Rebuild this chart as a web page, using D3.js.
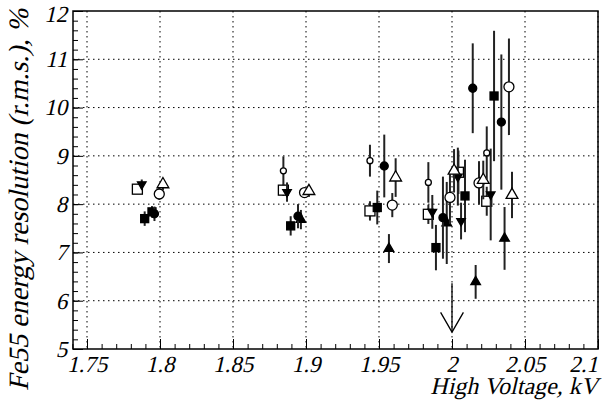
<!DOCTYPE html>
<html>
<head>
<meta charset="utf-8">
<script src="https://cdn.jsdelivr.net/npm/d3@7"></script>
<style>
  body { margin: 0; background: #fff; }
</style>
</head>
<body>
<div id="chart"></div>
<script>
// tick labels
var xTicks = [1.75, 1.8, 1.85, 1.9, 1.95, 2.0, 2.05, 2.1];
var yTicks = [5, 6, 7, 8, 9, 10, 11, 12];

// each point: [high voltage kV, resolution %, error]
var openSquare   = [[1.7845, 8.31, 0.08], [1.8845, 8.29, 0.12], [1.9438, 7.86, 0.2], [1.9838, 7.79, 0.2], [2.0044, 8.66, 0.45], [2.0238, 8.06, 0.3]];
var triDown      = [[1.7875, 8.41, 0.1], [1.887, 8.25, 0.2], [1.9865, 7.84, 0.35], [2.0040, 8.57, 0.6], [2.0062, 7.65, 0.38], [2.0265, 8.2, 0.95]];
var fullSquare   = [[1.7895, 7.7, 0.15], [1.7945, 7.84, 0.12], [1.8895, 7.55, 0.2], [1.9488, 7.93, 0.35], [1.989, 7.1, 0.47], [2.0089, 8.17, 0.75], [2.0288, 10.24, 1.35]];
var fullCircle   = [[1.7962, 7.8, 0.15], [1.8945, 7.75, 0.25], [1.9536, 8.79, 0.65], [1.9938, 7.72, 0.85], [2.0142, 10.4, 0.93], [2.0338, 9.7, 1.4]];
var openCircle   = [[1.7995, 8.21, 0.12], [1.899, 8.24, 0.1], [1.9591, 7.98, 0.25], [1.9986, 8.14, 0.55], [2.0185, 8.44, 0.45], [2.039, 10.43, 1.0]];
var openTriangle = [[1.802, 8.41, 0.12], [1.902, 8.27, 0.12], [1.9614, 8.55, 0.4], [2.0014, 8.69, 0.45], [2.0214, 8.5, 0.4], [2.0411, 8.19, 0.48]];
var fullTriangle = [[1.8965, 7.68, 0.2], [1.9568, 7.08, 0.3], [1.9964, 7.61, 0.85], [2.0162, 6.39, 0.35], [2.036, 7.29, 0.65]];
var smallCircle  = [[1.8845, 8.69, 0.3], [1.9438, 8.9, 0.33], [1.9838, 8.45, 0.42], [2.0238, 9.06, 0.55]];

var W = 609, H = 401;
var FONT = "'Liberation Serif', 'Times New Roman', serif";
var SKEW = " skewX(-13)"; // serif italic face is missing, so slant the upright one
var x = d3.scaleLinear().domain([1.7404, 2.1]).range([73, 598]);
var y = d3.scaleLinear().domain([5, 12]).range([349, 11]);

var svg = d3.select("#chart").append("svg")
  .attr("width", W)
  .attr("height", H)
  .style("font-family", FONT);

// grid
var grid = svg.append("g")
  .attr("stroke", "#000")
  .attr("stroke-width", 1)
  .attr("stroke-dasharray", "1.5,3.5");
grid.selectAll("line.gx")
  .data(xTicks)
  .enter().append("line")
  .attr("x1", function(d) { return x(d); })
  .attr("x2", function(d) { return x(d); })
  .attr("y1", y(12)).attr("y2", y(5));
grid.selectAll("line.gy")
  .data(yTicks.slice(1, -1))
  .enter().append("line")
  .attr("y1", function(d) { return y(d); })
  .attr("y2", function(d) { return y(d); })
  .attr("x1", x.range()[0]).attr("x2", x.range()[1]);

// axes, ticks pointing inward
var fmt = function(d) { return String(+d.toFixed(2)); };
var xMinor = d3.range(1.74, 2.1001, 0.01);
var yMinor = d3.range(5, 12.001, 0.2);

function styleLabels(g) {
  g.attr("font-family", null);
  g.selectAll("text")
    .style("font-family", FONT)
    .attr("font-size", 23)
    .attr("fill", "#000");
}

svg.append("g")
  .attr("transform", "translate(0," + y(5) + ")")
  .call(d3.axisBottom(x).tickValues(xMinor).tickSize(-5).tickFormat(""));
var xAxis = svg.append("g")
  .attr("transform", "translate(0," + y(5) + ")")
  .call(d3.axisBottom(x).tickValues(xTicks).tickSize(-10).tickPadding(7).tickFormat(fmt))
  .call(styleLabels);
xAxis.selectAll(".tick text").attr("transform", "translate(5,0)" + SKEW);
xAxis.selectAll(".tick:last-of-type text").attr("text-anchor", "end").attr("x", 0);

svg.append("g")
  .attr("transform", "translate(" + x.range()[0] + ",0)")
  .call(d3.axisLeft(y).tickValues(yMinor).tickSize(-5).tickFormat(""));
var yAxis = svg.append("g")
  .attr("transform", "translate(" + x.range()[0] + ",0)")
  .call(d3.axisLeft(y).tickValues(yTicks).tickSize(-10).tickPadding(5).tickFormat(fmt))
  .call(styleLabels);
yAxis.selectAll(".tick text").attr("transform", "translate(1,0)" + SKEW);
// keep the top label inside the page
yAxis.selectAll(".tick:last-of-type text").attr("transform", "translate(1,3)" + SKEW);

svg.selectAll(".domain").remove();
svg.selectAll(".tick line").attr("stroke", "#000").attr("stroke-width", 1);

// frame
svg.append("rect")
  .attr("x", x.range()[0]).attr("y", y(12))
  .attr("width", x.range()[1] - x.range()[0])
  .attr("height", y(5) - y(12))
  .attr("fill", "none").attr("stroke", "#000").attr("stroke-width", 1.5);

// titles
svg.append("text")
  .attr("transform", "translate(598,394)" + SKEW)
  .attr("text-anchor", "end")
  .attr("font-size", 24)
  .text("High Voltage, kV");

svg.append("text")
  .attr("transform", "translate(28,9) rotate(-90)" + SKEW)
  .attr("text-anchor", "end")
  .attr("font-size", 28)
  .text("Fe55 energy resolution (r.m.s.), %");

// arrow at 2 kV
var arrow = svg.append("g").attr("stroke", "#000").attr("stroke-width", 1.3).attr("fill", "none");
arrow.append("line")
  .attr("x1", x(2.0)).attr("x2", x(2.0))
  .attr("y1", y(6.36)).attr("y2", y(5.35));
arrow.append("path")
  .attr("d", d3.line()([[x(1.9922), y(5.76)], [x(2.0), y(5.35)], [x(2.0078), y(5.76)]]));

// markers
var tri = d3.symbol().type(d3.symbolTriangle);
var series = [
  { data: openSquare,   kind: "square",  size: 10, fill: "#fff" },
  { data: fullSquare,   kind: "square",  size: 8,  fill: "#000" },
  { data: triDown,      kind: "tdown",   size: 32, fill: "#000" },
  { data: fullTriangle, kind: "tup",     size: 40, fill: "#000" },
  { data: fullCircle,   kind: "circle",  size: 4,  fill: "#000" },
  { data: openCircle,   kind: "circle",  size: 5,  fill: "#fff" },
  { data: openTriangle, kind: "tup",     size: 60, fill: "#fff" },
  { data: smallCircle,  kind: "circle",  size: 3,  fill: "#fff" }
];

series.forEach(function(s) {
  var g = svg.append("g");
  g.selectAll("line")
    .data(s.data)
    .enter().append("line")
    .attr("x1", function(d) { return x(d[0]); })
    .attr("x2", function(d) { return x(d[0]); })
    .attr("y1", function(d) { return y(d[1] - d[2]); })
    .attr("y2", function(d) { return y(d[1] + d[2]); })
    .attr("stroke", "#222")
    .attr("stroke-width", 2);

  var m = g.selectAll(".m").data(s.data).enter();
  if (s.kind == "square") {
    m.append("rect")
      .attr("x", function(d) { return x(d[0]) - s.size / 2; })
      .attr("y", function(d) { return y(d[1]) - s.size / 2; })
      .attr("width", s.size).attr("height", s.size)
      .attr("fill", s.fill).attr("stroke", "#000").attr("stroke-width", 1.3);
  } else if (s.kind == "circle") {
    m.append("circle")
      .attr("cx", function(d) { return x(d[0]); })
      .attr("cy", function(d) { return y(d[1]); })
      .attr("r", s.size)
      .attr("fill", s.fill).attr("stroke", "#000").attr("stroke-width", 1.3);
  } else {
    m.append("path")
      .attr("d", tri.size(s.size))
      .attr("transform", function(d) {
        return "translate(" + x(d[0]) + "," + y(d[1]) + ")" + (s.kind == "tdown" ? " rotate(180)" : "");
      })
      .attr("fill", s.fill).attr("stroke", "#000").attr("stroke-width", 1.3);
  }
});
</script>
</body>
</html>
